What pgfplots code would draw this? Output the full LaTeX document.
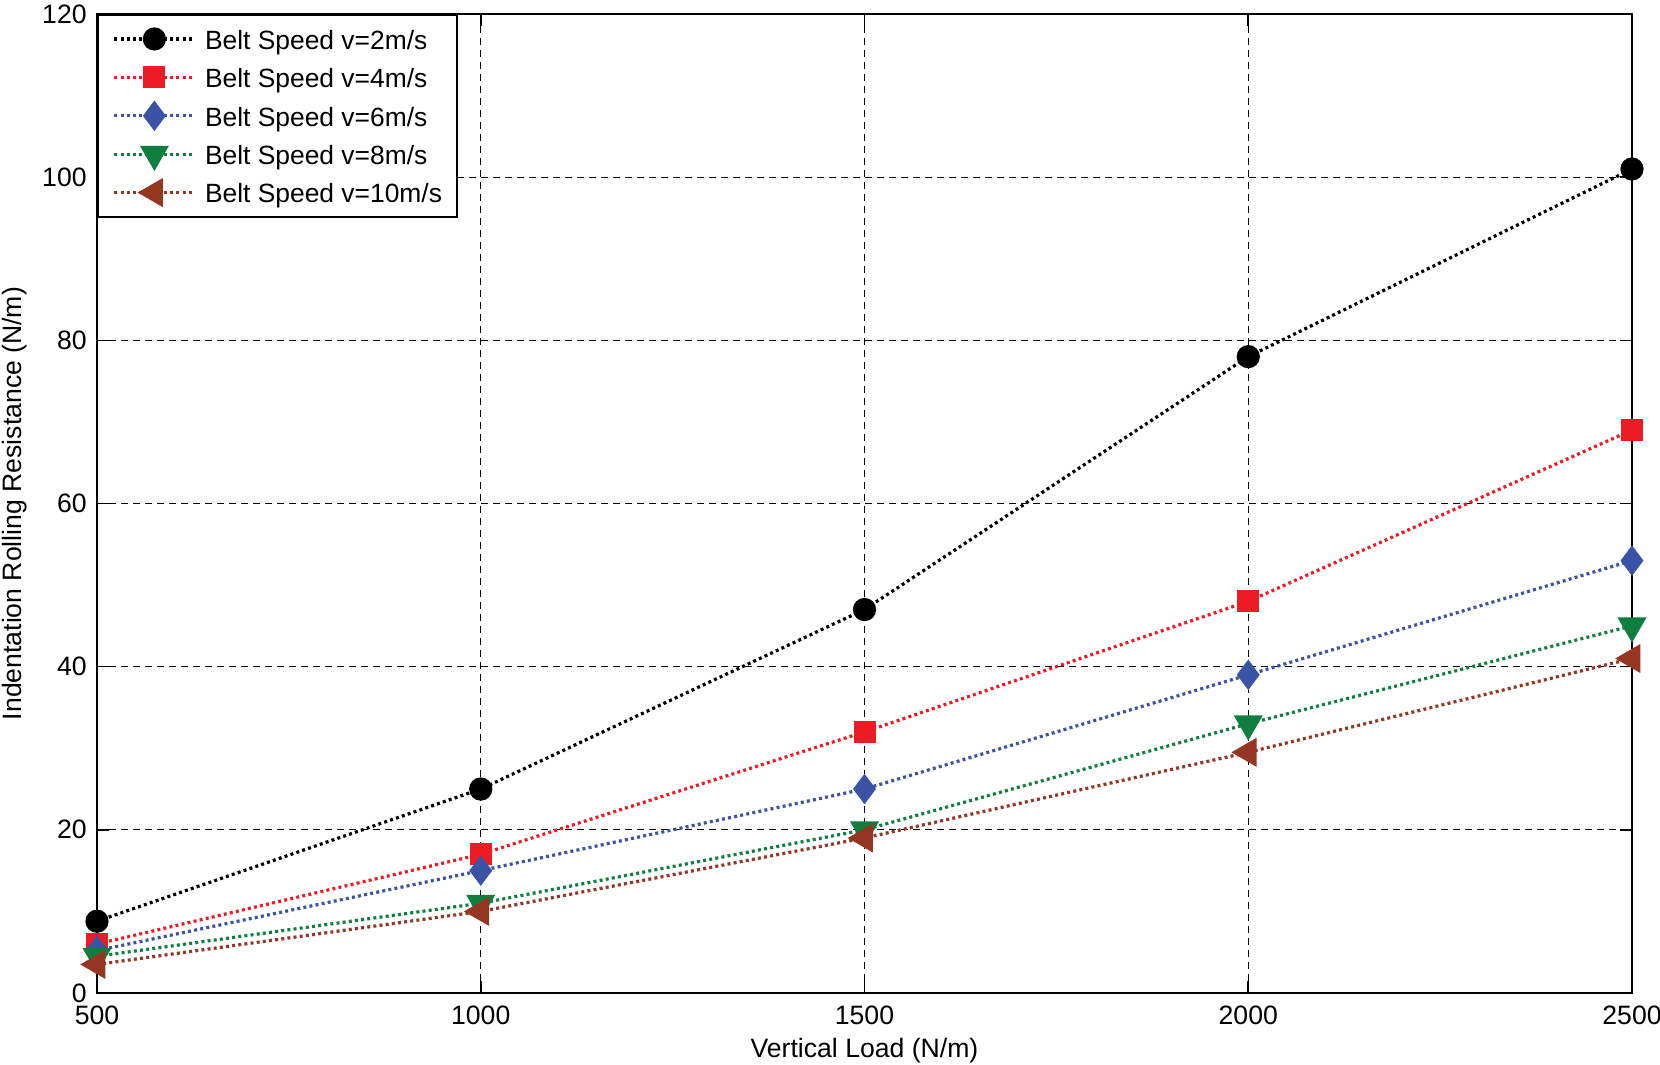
\documentclass[border=0pt]{standalone}
\usepackage{fontspec}
\setmainfont{Liberation Sans}
\usepackage{pgfplots}
\pgfplotsset{compat=1.18}
\definecolor{cblack}{HTML}{000000}
\definecolor{cred}{HTML}{ED1C24}
\definecolor{cblue}{HTML}{3A53A4}
\definecolor{cgreen}{HTML}{0F7F3F}
\definecolor{cbrown}{HTML}{943621}
\pgfplotstableread{
x    a     b    c    d    e
500  8.8   6.0  5.2  4.5  3.5
1000 25    17   15   11   10
1500 47    32   25   20   19
2000 78    48   39   33   29.5
2500 101   69   53   45   41
}\data
\begin{document}
\begin{tikzpicture}
\begin{axis}[
  scale only axis, width=767.5pt, height=489.5pt,
  xmin=500, xmax=2500, ymin=0, ymax=120,
  xtick={500,1000,1500,2000,2500}, ytick={0,20,40,60,80,100,120},
  grid=major,
  major grid style={black, line width=0.6pt, dash pattern=on 3.5pt off 2.5pt},
  axis line style={line width=1pt},
  tick style={black, line width=0.8pt},
  tick align=inside, major tick length=6pt,
  /pgf/number format/assume math mode=true,
  /pgf/number format/1000 sep={},
  font=\fontsize{13.3}{16}\selectfont,
  xticklabel style={anchor=base, yshift=-16pt},
  yticklabel style={anchor=east, inner sep=0pt, xshift=-5pt},
  xlabel={Vertical Load (N/m)},
  ylabel={Indentation Rolling Resistance (N/m)},
  every axis x label/.style={at={(axis description cs:0.5,0)}, anchor=base, yshift=-32.5pt},
  every axis y label/.style={at={(axis description cs:-0.0534,0.5)}, rotate=90, anchor=center},
  legend cell align=left,
  legend style={at={(0,1)}, anchor=north west, draw=black, line width=0.8pt, fill=white,
    inner xsep=7.5pt, inner ysep=2.5pt, row sep=0pt, column sep=4.5pt,
    font=\fontsize{13.2}{16}\selectfont,
    nodes={inner sep=0pt, text height=14.8pt, text depth=4.4pt}},
  legend image code/.code={\draw[mark repeat=2,mark phase=2] plot coordinates {(0pt,0pt) (20pt,0pt) (40pt,0pt)};},
  every axis plot/.append style={line width=1.6pt, dash pattern=on 1.5pt off 1.6pt},
]
\addplot[cblack, mark=*, mark options={solid, fill=cblack, mark size=5pt}] table[x=x,y=a]{\data};
\addlegendentry{Belt Speed v=2m/s}
\addplot[cred, mark=square*, mark options={solid, fill=cred, mark size=4.7pt}] table[x=x,y=b]{\data};
\addlegendentry{Belt Speed v=4m/s}
\addplot[cblue, mark=diamond*, mark options={solid, fill=cblue, mark size=6.3pt}] table[x=x,y=c]{\data};
\addlegendentry{Belt Speed v=6m/s}
\addplot[cgreen, mark=triangle*, mark options={solid, fill=cgreen, rotate=180, mark size=6.8pt}] table[x=x,y=d]{\data};
\addlegendentry{Belt Speed v=8m/s}
\addplot[cbrown, mark=triangle*, mark options={solid, fill=cbrown, rotate=90, mark size=6.8pt}] table[x=x,y=e]{\data};
\addlegendentry{Belt Speed v=10m/s}
\end{axis}
\pgfresetboundingbox
\path[use as bounding box] (-48.5pt,-36pt) rectangle (781.5pt,496.5pt);
\end{tikzpicture}
\end{document}
